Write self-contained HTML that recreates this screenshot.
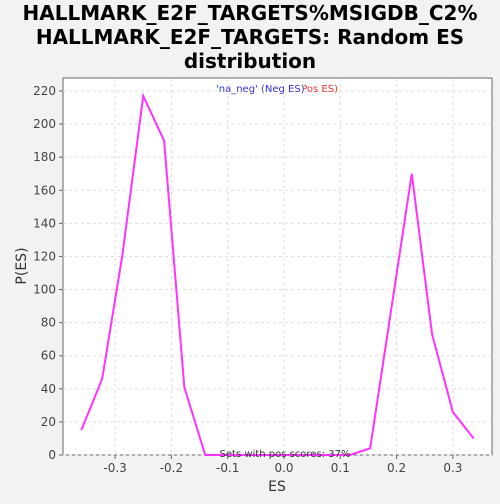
<!DOCTYPE html>
<html><head><meta charset="utf-8"><style>
body{margin:0;background:#f2f2f2;width:500px;height:500px;overflow:hidden;font-family:"DejaVu Sans","Liberation Sans",sans-serif}
</style></head><body>
<svg width="500" height="500" xmlns="http://www.w3.org/2000/svg" font-family="DejaVu Sans, Liberation Sans, sans-serif">
<text x="250" y="20" text-anchor="middle" font-size="20" font-weight="bold">HALLMARK_E2F_TARGETS%MSIGDB_C2%</text>
<text x="250" y="44" text-anchor="middle" font-size="20" font-weight="bold">HALLMARK_E2F_TARGETS: Random ES</text>
<text x="250" y="68" text-anchor="middle" font-size="20" font-weight="bold">distribution</text>
<rect x="63" y="78" width="429" height="377" fill="#fff" stroke="#666"/>
<g id="grid"></g><g id="axes"></g>
<text x="338" y="92" text-anchor="end" font-size="10" fill="#e33">'na_pos' (Pos ES)</text>
<rect x="214" y="82" width="90" height="13" fill="#fff"/>
<text x="216" y="92" font-size="10" fill="#33c">'na_neg' (Neg ES)</text>
<polyline id="line" fill="none" stroke="#ff33ff" stroke-width="2"/>
<text x="285" y="457" text-anchor="middle" font-size="10" fill="#333">Sets with pos scores: 37%</text>
<text x="277" y="491" text-anchor="middle" font-size="14" fill="#333">ES</text>
<text x="26" y="266" text-anchor="middle" font-size="14" fill="#333" transform="rotate(-90 26 266)">P(ES)</text>
</svg>
<script>
const esValues=[-0.36,-0.323,-0.287,-0.25,-0.213,-0.177,-0.14,0.117,0.153,0.19,0.227,0.263,0.3,0.337];
const densities=[15,46,121,217,190,41,0,0,4,87,170,73,26,10];
const xTicks=[-0.3,-0.2,-0.1,0.0,0.1,0.2,0.3];
const yTicks=[0,20,40,60,80,100,120,140,160,180,200,220];
const X=v=>284+v*563;
const Y=v=>455-v*(364/220);
const ns="http://www.w3.org/2000/svg";
const g=document.getElementById('grid'),a=document.getElementById('axes');
function mk(p,t,at){const e=document.createElementNS(ns,t);for(const k in at)e.setAttribute(k,at[k]);p.appendChild(e);return e;}
xTicks.forEach(t=>{const x=X(t);
const l=mk(g,'line',{x1:x,x2:x,y1:78,y2:455,stroke:'#ddd','stroke-dasharray':'3,3'});


mk(a,'line',{x1:x,x2:x,y1:455,y2:459,stroke:'#666'});
const tx=mk(a,'text',{x:x,y:472,'text-anchor':'middle','font-size':12,fill:'#444'});tx.textContent=t.toFixed(1);

});
yTicks.forEach(t=>{const y=Y(t);
const l=mk(g,'line',{x1:63,x2:492,y1:y,y2:y,stroke:'#ddd','stroke-dasharray':'3,3'});


mk(a,'line',{x1:59,x2:63,y1:y,y2:y,stroke:'#666'});
const tx=mk(a,'text',{x:56,y:y+4,'text-anchor':'end','font-size':12,fill:'#444'});tx.textContent=t;

});
document.getElementById('line').setAttribute('points',esValues.map((v,i)=>X(v)+','+Y(densities[i])).join(' '));
</script>
</body></html>
